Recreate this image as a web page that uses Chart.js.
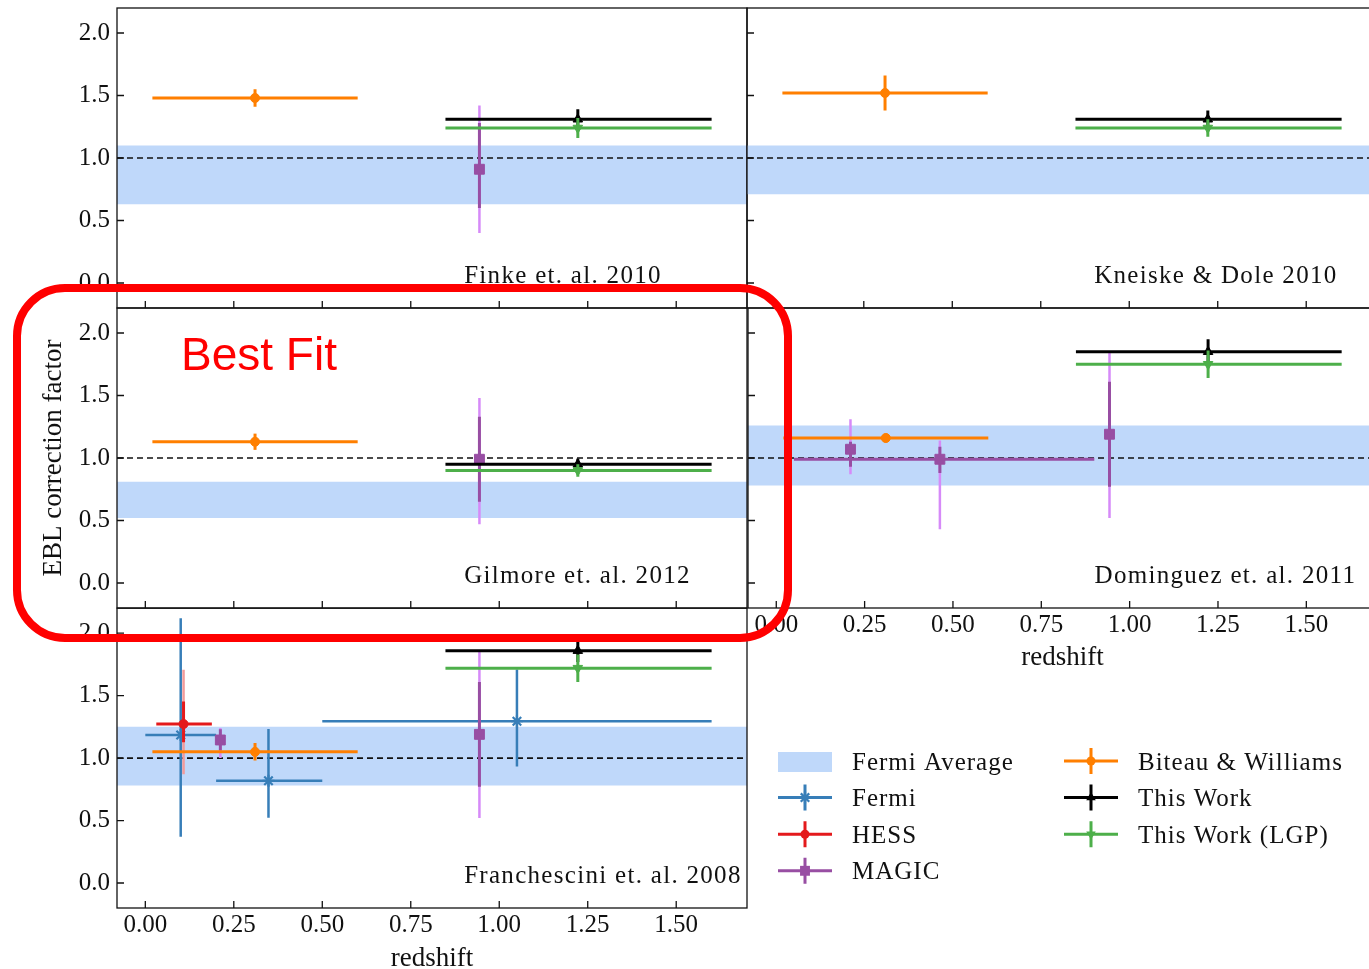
<!DOCTYPE html>
<html><head><meta charset="utf-8">
<script src="https://cdn.jsdelivr.net/npm/chart.js@4.4.1/dist/chart.umd.min.js"></script>
<style>
html,body{margin:0;padding:0;background:#fff;}
body{width:1369px;height:969px;overflow:hidden;position:relative;}
canvas{position:absolute;}
</style></head><body>
<canvas id="p0"></canvas><canvas id="p1"></canvas><canvas id="p2"></canvas><canvas id="p3"></canvas><canvas id="p4"></canvas><canvas id="ov"></canvas>
<script>
// ---------------- DATA ----------------
const xTickVals = [0, 0.25, 0.5, 0.75, 1.0, 1.25, 1.5];
const yTickVals = [0, 0.5, 1.0, 1.5, 2.0];
const panelTitles = ['Finke et. al. 2010', 'Kneiske & Dole 2010', 'Gilmore et. al. 2012', 'Dominguez et. al. 2011', 'Franchescini et. al. 2008'];

// Fermi average band (per panel)
const bandLow  = [0.63, 0.71, 0.52, 0.78, 0.78];
const bandHigh = [1.10, 1.10, 0.81, 1.26, 1.25];

// Biteau & Williams: redshift bin [centre, low, high] and value per panel
const bwZ   = [0.31, 0.02, 0.60];
const bwY   = [1.48, 1.52, 1.13, 1.16, 1.05];
const bwErr = [0.07, 0.14, 0.065, 0.035, 0.07];

// This Work
const twZ   = [1.222, 0.848, 1.60];
const twY   = [1.31, 1.31, 0.95, 1.85, 1.86];
const twErr = [0.08, 0.07, 0.045, 0.10, 0.09];

// This Work (LGP)
const lgpY   = [1.24, 1.24, 0.90, 1.75, 1.72];
const lgpErr = [0.08, 0.07, 0.05, 0.11, 0.11];

// MAGIC per panel: [z, y, zLow, zHigh, statLow, statHigh, sysLow, sysHigh]
const magic = [
  [[0.944, 0.91, null, null, 0.60, 1.28, 0.40, 1.42]],
  [],
  [[0.944, 0.99, null, null, 0.65, 1.33, 0.47, 1.48]],
  [[0.210, 1.07, null, null, 0.93, 1.13, 0.87, 1.31],
   [0.463, 0.99, 0.05, 0.90, 0.88, 1.09, 0.43, 1.14],
   [0.943, 1.19, null, null, 0.77, 1.61, 0.52, 1.84]],
  [[0.212, 1.145, null, null, 1.06, 1.23, 1.00, 1.24],
   [0.944, 1.19, null, null, 0.77, 1.61, 0.52, 1.85]]
];

// Fermi points (Franchescini panel only)
const fermiZ     = [0.10, 0.348, 1.05];
const fermiZLow  = [0.00, 0.20, 0.50];
const fermiZHigh = [0.20, 0.50, 1.60];
const fermiY     = [1.185, 0.818, 1.295];
const fermiYLow  = [0.37, 0.523, 0.933];
const fermiYHigh = [2.12, 1.233, 1.71];

// HESS point (Franchescini panel only)
const hessZ = [0.108], hessZLow = [0.031], hessZHigh = [0.188];
const hessY = [1.273], hessStatLow = [1.126], hessStatHigh = [1.453], hessSysLow = [0.871], hessSysHigh = [1.708];

const legendLabels = ['Fermi Average', 'Fermi', 'HESS', 'MAGIC', 'Biteau & Williams', 'This Work', 'This Work (LGP)'];

// ---------------- STYLE ----------------
const SERIF = '"Liberation Serif", "Times New Roman", serif';
Chart.defaults.font.family = SERIF;
Chart.defaults.color = '#111';
const X_MIN = -0.08, X_MAX = 1.70, Y_MIN = -0.2, Y_MAX = 2.2;
const C_BAND = 'rgb(191,216,250)';
const C_FERMI = '#377eb8';
const C_HESS = '#e41a1c', C_HESS_SYS = '#f29a9a';
const C_MAGIC = '#984ea3', C_MAGIC_SYS = '#d68af8';
const C_BW = '#ff7f00', C_TW = '#000000', C_LGP = '#4daf4a';

// layout: canvas left, top, width, height, y-axis width, x-axis height, x labels, y labels, y title
const layout = [
  [0,   0,   760, 316, 117, 8,  false, true,  false],
  [740, 0,   650, 316, 7,   8,  false, false, false],
  [0,   300, 760, 316, 117, 8,  false, true,  true],
  [740, 300, 650, 371, 7,   63, true,  false, false],
  [0,   600, 760, 372, 117, 64, true,  true,  false]
];

function seg(x1, y1, x2, y2, color, w) {
  return {data: [{x: x1, y: y1}, {x: x2, y: y2}], showLine: true, borderColor: color, borderWidth: w, pointRadius: 0, fill: false};
}
function mark(x, y, style, r, color, rot) {
  return {data: [{x, y}], showLine: false, pointStyle: style, pointRadius: r, pointBackgroundColor: color,
    pointBorderColor: color, pointBorderWidth: style === 'star' ? 2.2 : 1, pointRotation: rot || 0};
}

function buildDatasets(p) {
  const ds = [];
  ds.push({data: [{x: X_MIN, y: bandLow[p]}, {x: X_MAX, y: bandLow[p]}], showLine: true, borderWidth: 0, borderColor: 'rgba(0,0,0,0)', pointRadius: 0, fill: false});
  ds.push({data: [{x: X_MIN, y: bandHigh[p]}, {x: X_MAX, y: bandHigh[p]}], showLine: true, borderWidth: 0, borderColor: 'rgba(0,0,0,0)', pointRadius: 0, fill: '-1', backgroundColor: C_BAND});
  const dash = seg(X_MIN, 1, X_MAX, 1, '#111', 1.6); dash.borderDash = [6, 4];
  ds.push(dash);
  if (p === 4) {
    fermiZ.forEach((z, i) => {
      ds.push(seg(fermiZLow[i], fermiY[i], fermiZHigh[i], fermiY[i], C_FERMI, 2.5));
      ds.push(seg(z, fermiYLow[i], z, fermiYHigh[i], C_FERMI, 2.5));
      ds.push(mark(z, fermiY[i], 'star', 6, C_FERMI));
    });
    hessZ.forEach((z, i) => {
      ds.push(seg(z, hessSysLow[i], z, hessSysHigh[i], C_HESS_SYS, 2.5));
      ds.push(seg(z, hessStatLow[i], z, hessStatHigh[i], C_HESS, 3));
      ds.push(seg(hessZLow[i], hessY[i], hessZHigh[i], hessY[i], C_HESS, 3));
      ds.push(mark(z, hessY[i], 'circle', 4.5, C_HESS));
    });
  }
  magic[p].forEach(m => {
    const [z, y, zl, zh, sl, sh, yl, yh] = m;
    ds.push(seg(z, yl, z, yh, C_MAGIC_SYS, 2.5));
    ds.push(seg(z, sl, z, sh, C_MAGIC, 3));
    if (zl !== null) ds.push(seg(zl, y, zh, y, C_MAGIC, 3));
    ds.push(mark(z, y, 'rect', 7, C_MAGIC));
  });
  ds.push(seg(bwZ[1], bwY[p], bwZ[2], bwY[p], C_BW, 3));
  ds.push(seg(bwZ[0], bwY[p] - bwErr[p], bwZ[0], bwY[p] + bwErr[p], C_BW, 3));
  ds.push(mark(bwZ[0], bwY[p], 'circle', 4.5, C_BW));
  ds.push(seg(twZ[1], twY[p], twZ[2], twY[p], C_TW, 3));
  ds.push(seg(twZ[0], twY[p] - twErr[p], twZ[0], twY[p] + twErr[p], C_TW, 3));
  ds.push(mark(twZ[0], twY[p], 'triangle', 5.5, C_TW));
  ds.push(seg(twZ[1], lgpY[p], twZ[2], lgpY[p], C_LGP, 3));
  ds.push(seg(twZ[0], lgpY[p] - lgpErr[p], twZ[0], lgpY[p] + lgpErr[p], C_LGP, 3));
  ds.push(mark(twZ[0], lgpY[p], 'triangle', 5.5, C_LGP, 180));
  ds.forEach((d, i) => { d.order = -i; });
  return ds;
}

const framePlugin = {
  id: 'frame',
  afterDatasetsDraw(chart, args, opts) {
    const {ctx, chartArea: a, scales: {x, y}} = chart;
    ctx.save();
    ctx.strokeStyle = '#111';
    ctx.lineWidth = 1.3;
    ctx.beginPath();
    x.ticks.forEach(t => { const px = x.getPixelForValue(t.value); ctx.moveTo(px, a.bottom); ctx.lineTo(px, a.bottom - 7); });
    y.ticks.forEach(t => { const py = y.getPixelForValue(t.value); ctx.moveTo(a.left, py); ctx.lineTo(a.left + 7, py); });
    ctx.stroke();
    ctx.strokeRect(a.left, a.top, a.right - a.left, a.bottom - a.top);
    ctx.font = '25px ' + SERIF;
    try { ctx.letterSpacing = '1.3px'; } catch (e) {}
    ctx.fillStyle = '#111';
    ctx.textBaseline = 'alphabetic';
    ctx.textAlign = 'left';
    ctx.fillText(opts.title, a.left + 0.551 * (a.right - a.left), a.top + 0.916 * (a.bottom - a.top));
    ctx.restore();
  }
};

layout.forEach((L, p) => {
  const [cl, ct, cw, ch, yW, xH, showX, showY, showYT] = L;
  const cv = document.getElementById('p' + p);
  cv.width = cw; cv.height = ch;
  cv.style.left = cl + 'px'; cv.style.top = ct + 'px';
  new Chart(cv, {
    type: 'scatter',
    data: {datasets: buildDatasets(p)},
    options: {
      responsive: false, animation: false, devicePixelRatio: 1,
      layout: {padding: {left: 0, top: 8, right: cw - yW - 630, bottom: 0}},
      plugins: {legend: {display: false}, tooltip: {enabled: false}, frame: {title: panelTitles[p]}},
      scales: {
        x: {
          type: 'linear', min: X_MIN, max: X_MAX,
          afterBuildTicks: s => { s.ticks = xTickVals.map(v => ({value: v})); },
          afterFit: s => { s.height = xH; s.paddingLeft = 0; s.paddingRight = 0; s.paddingTop = 0; s.paddingBottom = 0; },
          grid: {display: false, drawTicks: false}, border: {display: false},
          ticks: {display: showX, padding: 2, autoSkip: false, maxRotation: 0, font: {size: 25}, color: '#111', callback: v => Number(v).toFixed(2)},
          title: {display: showX, text: 'redshift', font: {size: 27, lineHeight: 1}, color: '#111', padding: 0}
        },
        y: {
          type: 'linear', min: Y_MIN, max: Y_MAX,
          afterBuildTicks: s => { s.ticks = yTickVals.map(v => ({value: v})); },
          afterFit: s => { s.width = yW; s.paddingLeft = 0; s.paddingRight = 0; s.paddingTop = 0; s.paddingBottom = 0; },
          grid: {display: false, drawTicks: false}, border: {display: false},
          ticks: {display: showY, padding: 7, autoSkip: false, font: {size: 25}, color: '#111', callback: v => Number(v).toFixed(1)},
          title: {display: showYT, text: 'EBL correction factor', font: {size: 27, lineHeight: 1.2}, color: '#111', padding: {top: 38, bottom: 0}}
        }
      }
    },
    plugins: [framePlugin]
  });
});

// ---------------- legend + annotation overlay ----------------
function drawMarker(ctx, style, x, y, r, color, rot) {
  ctx.save();
  ctx.fillStyle = color; ctx.strokeStyle = color;
  ctx.translate(x, y); ctx.rotate((rot || 0) * Math.PI / 180);
  ctx.beginPath();
  if (style === 'circle') { ctx.arc(0, 0, r, 0, 2 * Math.PI); ctx.fill(); }
  else if (style === 'rect') { const s = r / Math.SQRT2; ctx.rect(-s, -s, 2 * s, 2 * s); ctx.fill(); }
  else if (style === 'triangle') {
    for (let k = 0; k < 3; k++) { const a = k * 2 * Math.PI / 3; const px = Math.sin(a) * r, py = -Math.cos(a) * r; k ? ctx.lineTo(px, py) : ctx.moveTo(px, py); }
    ctx.closePath(); ctx.fill();
  } else if (style === 'star') {
    ctx.lineWidth = 2.2;
    for (let k = 0; k < 4; k++) { const a = k * Math.PI / 4; ctx.moveTo(Math.cos(a) * r, Math.sin(a) * r); ctx.lineTo(-Math.cos(a) * r, -Math.sin(a) * r); }
    ctx.stroke();
  }
  ctx.restore();
}

const legendStyles = [
  {patch: C_BAND},
  {color: C_FERMI, style: 'star', r: 6},
  {color: C_HESS, style: 'circle', r: 4.5},
  {color: C_MAGIC, style: 'rect', r: 7},
  {color: C_BW, style: 'circle', r: 4.5},
  {color: C_TW, style: 'triangle', r: 5.5},
  {color: C_LGP, style: 'triangle', r: 5.5, rot: 180}
];

const overlayPlugin = {
  id: 'overlay',
  afterDraw(chart) {
    const ctx = chart.ctx;
    ctx.save();
    // legend
    legendLabels.forEach((lab, i) => {
      const col = i < 4 ? 0 : 1, row = i < 4 ? i : i - 4;
      const ix = col ? 1064 : 778, tx = col ? 1138 : 852;
      const cy = 761 + 36.6 * row;
      const st = legendStyles[i];
      if (st.patch) {
        ctx.fillStyle = st.patch; ctx.fillRect(ix, cy - 9, 54, 20);
      } else {
        ctx.strokeStyle = st.color; ctx.lineWidth = 3;
        ctx.beginPath(); ctx.moveTo(ix, cy); ctx.lineTo(ix + 54, cy); ctx.moveTo(ix + 27, cy - 13); ctx.lineTo(ix + 27, cy + 13); ctx.stroke();
        drawMarker(ctx, st.style, ix + 27, cy, st.r, st.color, st.rot);
      }
      ctx.fillStyle = '#111';
      ctx.font = '25px ' + SERIF;
      try { ctx.letterSpacing = '1px'; } catch (e) {}
      ctx.textBaseline = 'middle'; ctx.textAlign = 'left';
      ctx.fillText(lab, tx, cy + 2);
    });
    // annotation
    try { ctx.letterSpacing = '0px'; } catch (e) {}
    const x0 = 17, y0 = 288, x1 = 788, y1 = 638, r = 48;
    ctx.strokeStyle = '#ff0000'; ctx.lineWidth = 8;
    ctx.beginPath();
    ctx.moveTo(x0 + r, y0);
    ctx.arcTo(x1, y0, x1, y1, r);
    ctx.arcTo(x1, y1, x0, y1, r);
    ctx.arcTo(x0, y1, x0, y0, r);
    ctx.arcTo(x0, y0, x1, y0, r);
    ctx.closePath();
    ctx.stroke();
    ctx.fillStyle = '#ff0000';
    ctx.font = '46px "Liberation Sans", Arial, sans-serif';
    ctx.textBaseline = 'alphabetic';
    ctx.fillText('Best Fit', 181, 370);
    ctx.restore();
  }
};

const ov = document.getElementById('ov');
ov.width = 1369; ov.height = 969; ov.style.left = '0px'; ov.style.top = '0px';
new Chart(ov, {
  type: 'scatter',
  data: {datasets: []},
  options: {responsive: false, animation: false, devicePixelRatio: 1,
    scales: {x: {display: false}, y: {display: false}},
    plugins: {legend: {display: false}, tooltip: {enabled: false}}},
  plugins: [overlayPlugin]
});
</script></body></html>
